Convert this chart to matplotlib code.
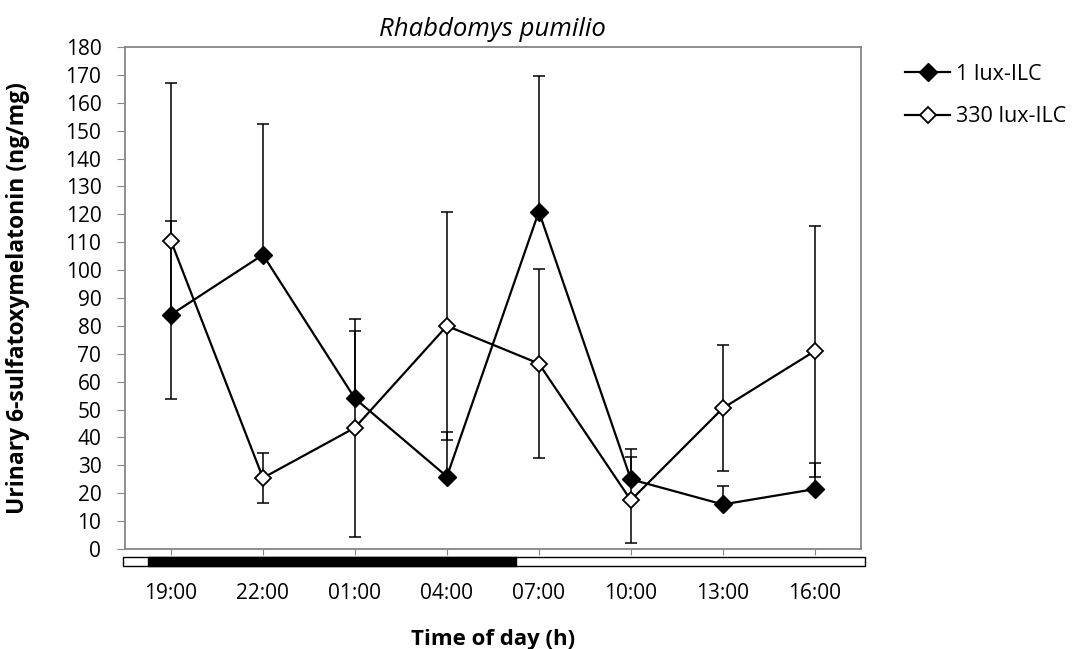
import numpy as np
import matplotlib
matplotlib.use("Agg")
import matplotlib.pyplot as plt
from matplotlib.patches import Rectangle
import matplotlib.transforms as transforms

plt.rcParams['font.family'] = ['Open Sans', 'DejaVu Sans']

times = ["19:00", "22:00", "01:00", "04:00", "07:00", "10:00", "13:00", "16:00"]

# 1 lux-ILC: means with upper error only
lux1 = [84, 105.5, 54, 26, 121, 25, 16, 21.5]
lux1_err = [33.5, 47, 24, 16, 48.5, 11, 6.5, 9.5]

# 330 lux-ILC: means with symmetric error
lux330 = [110.5, 25.5, 43.5, 80, 66.5, 17.5, 50.5, 71]
lux330_err = [56.7, 9, 39, 41, 34, 15.5, 22.5, 45]

# dark phase of the light cycle, in category units
dark_start, dark_end = -0.25, 3.75

x = np.arange(len(times))
grey = "#868686"

fig = plt.figure(figsize=(10.79, 6.49), dpi=100)
ax = fig.add_axes([0.1158, 0.154, 0.682, 0.7736])

ax.errorbar(x, lux1, yerr=[np.zeros(len(lux1)), lux1_err], fmt='none',
            ecolor='black', elinewidth=1.1, capsize=4.5, capthick=1.1, zorder=2)
ax.errorbar(x, lux330, yerr=lux330_err, fmt='none',
            ecolor='black', elinewidth=1.1, capsize=4.5, capthick=1.1, zorder=2)

ax.plot(x, lux1, color='black', lw=1.6, marker='D', ms=9,
        mfc='black', mec='black', label="1 lux-ILC", zorder=3)
ax.plot(x, lux330, color='black', lw=1.6, marker='D', ms=8.5,
        mfc='white', mec='black', mew=1.3, label="330 lux-ILC", zorder=4)

ax.set_xlim(-0.5, len(times) - 0.5)
ax.set_ylim(0, 180)
ax.set_yticks(np.arange(0, 181, 10))
ax.set_xticks(x)
ax.set_xticklabels(times)

for sp in ax.spines.values():
    sp.set_color(grey)
    sp.set_linewidth(1.3)

ax.tick_params(axis='y', direction='out', length=6, color=grey, labelsize=15, pad=11)
ax.tick_params(axis='x', direction='out', length=4.5, color=grey, labelsize=15, pad=20)

# light/dark bar under the x axis
trans = transforms.blended_transform_factory(ax.transData, ax.transAxes)
ax.add_patch(Rectangle((-0.52, -0.034), 8.07, 0.018, transform=trans,
                       facecolor='white', edgecolor='black', lw=1.0, clip_on=False))
ax.add_patch(Rectangle((dark_start, -0.034), dark_end - dark_start, 0.018, transform=trans,
                       facecolor='black', edgecolor='black', lw=1.0, clip_on=False))

ax.set_title("Rhabdomys pumilio", fontsize=18.5, style='italic', pad=8)
ax.set_xlabel("Time of day (h)", fontsize=16, fontweight='bold', va='center')
ax.xaxis.set_label_coords(0.5, -0.18)
ax.set_ylabel("Urinary 6-sulfatoxymelatonin (ng/mg)", fontsize=16.5,
              fontweight='bold', va='center')
ax.yaxis.set_label_coords(-0.145, 0.5)

fig.legend(loc='upper left', bbox_to_anchor=(0.8387, 0.902), frameon=False,
           fontsize=15.5, handlelength=2.1, labelspacing=1.0, handletextpad=0.25,
           borderpad=0, borderaxespad=0)

fig.savefig("out.png", dpi=100)
